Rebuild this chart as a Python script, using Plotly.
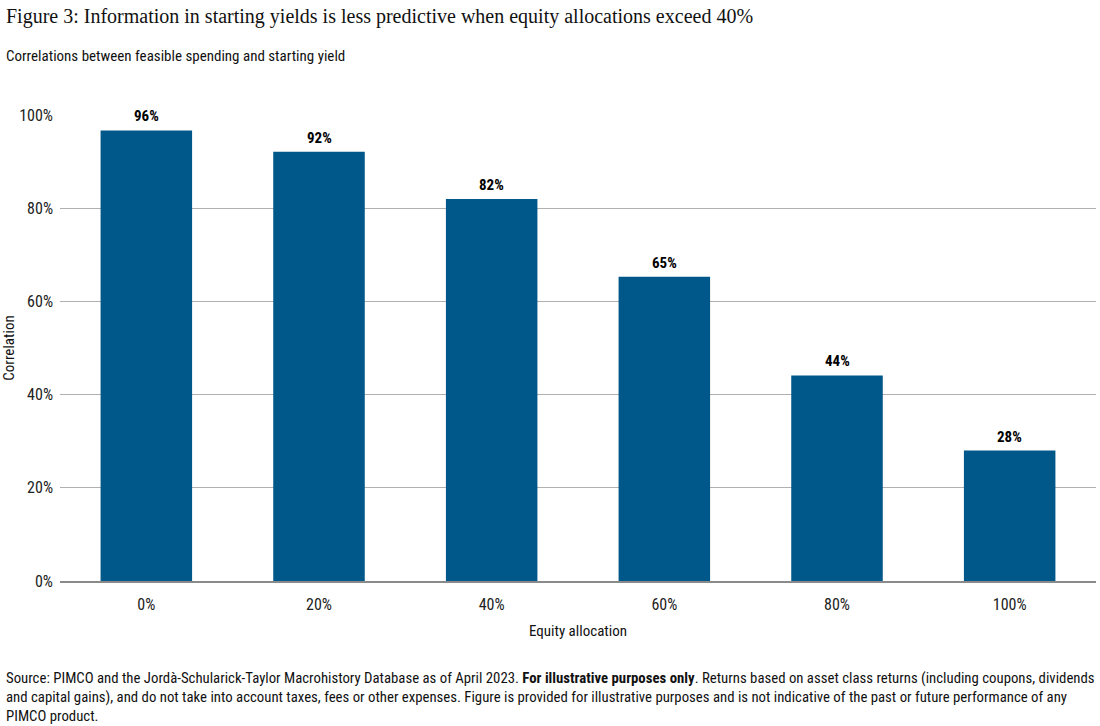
import plotly.graph_objects as go

categories = ["0%", "20%", "40%", "60%", "80%", "100%"]
values = [96.7, 92.1, 82.0, 65.3, 44.1, 28.0]
labels = ["96%", "92%", "82%", "65%", "44%", "28%"]
y_ticks = [0, 20, 40, 60, 80, 100]
y_tick_labels = ["0%", "20%", "40%", "60%", "80%", "100%"]

BAR = "#00578a"
SANS = "Roboto Condensed, Liberation Sans Narrow, DejaVu Sans Condensed, Roboto, sans-serif"
SERIF = "Liberation Serif, DejaVu Serif, serif"

W, H = 1100, 726
L, R, T, B = 60, 4, 115, 145
pw = W - L - R
ph = H - T - B

def px(x):
    return (x - L) / pw

def py(y):
    return (H - B - y) / ph

fig = go.Figure()
fig.add_trace(go.Bar(
    x=categories, y=values, marker=dict(color=BAR, line=dict(width=0)),
    width=0.53, hoverinfo="skip",
))

for c, v, lab in zip(categories, values, labels):
    fig.add_annotation(x=c, y=v, text="<b>" + lab + "</b>", showarrow=False,
                       yanchor="bottom", yshift=3, bgcolor="white",
                       font=dict(family=SANS, size=15, color="black"))

fig.update_layout(
    width=W, height=H, margin=dict(l=L, r=R, t=T, b=B),
    paper_bgcolor="white", plot_bgcolor="white", showlegend=False,
    bargap=0.47,
    font=dict(family=SANS, size=15, color="#222"),
    xaxis=dict(showgrid=False, showline=True, linecolor="#8a8a8a", linewidth=2,
               ticks="", tickfont=dict(size=16, color="#222"), ticklabelstandoff=8,
               title=dict(text="Equity allocation", font=dict(size=15, color="#111"), standoff=12)),
    yaxis=dict(range=[0, 100], tickvals=y_ticks, ticktext=y_tick_labels,
               showgrid=True, gridcolor="#b0b0b0", gridwidth=1, zeroline=False,
               showline=False, ticks="", ticklabelstandoff=6,
               tickfont=dict(size=16, color="#222"),
               title=dict(text="Correlation", font=dict(size=15, color="#111"), standoff=6)),
)

fig.add_annotation(xref="paper", yref="paper", x=px(4), y=py(16), xanchor="left", yanchor="middle",
                   text="Figure 3: Information in starting yields is less predictive when equity allocations exceed 40%",
                   showarrow=False, font=dict(family=SERIF, size=20, color="#111"))
fig.add_annotation(xref="paper", yref="paper", x=px(4), y=py(56), xanchor="left", yanchor="middle",
                   text="Correlations between feasible spending and starting yield",
                   showarrow=False, font=dict(family=SANS, size=15, color="#111"))
footer = ("Source: PIMCO and the Jordà-Schularick-Taylor Macrohistory Database as of April 2023. "
          "<b>For illustrative purposes only</b>. Returns based on asset class returns (including coupons, dividends<br>"
          "and capital gains), and do not take into account taxes, fees or other expenses. Figure is provided for "
          "illustrative purposes and is not indicative of the past or future performance of any<br>"
          "PIMCO product.")
fig.add_annotation(xref="paper", yref="paper", x=px(4), y=py(667), xanchor="left", yanchor="top",
                   align="left", text=footer, showarrow=False,
                   font=dict(family=SANS, size=14.8, color="#111"))

fig.write_html("out.html", config={"displayModeBar": False},
               post_script="document.body.style.margin='0';")
